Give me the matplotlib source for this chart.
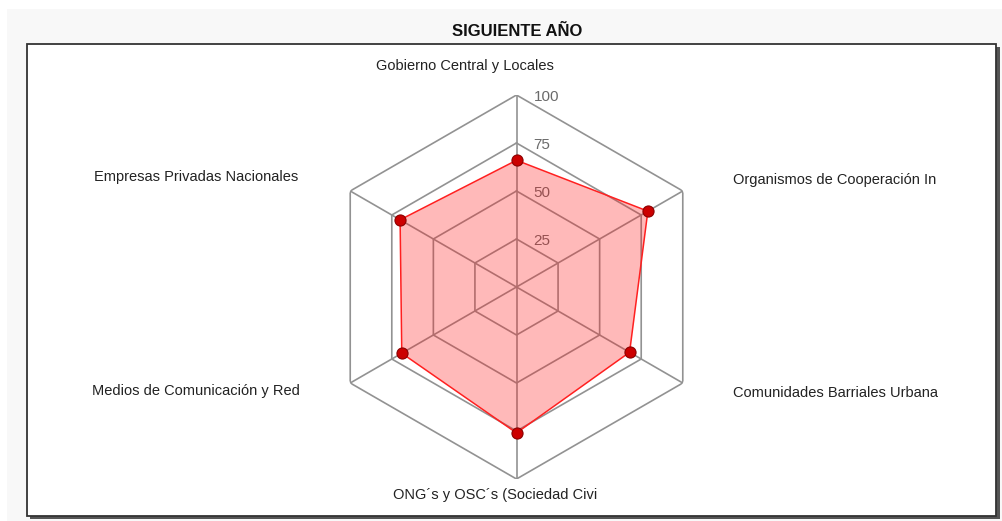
import matplotlib

matplotlib.use("Agg")
import matplotlib.pyplot as plt
import numpy as np
from matplotlib.patches import Rectangle

plt.rcParams["font.family"] = ["Liberation Sans", "DejaVu Sans"]

# data
categories = [
    "Gobierno Central y Locales",
    "Organismos de Cooperación In",
    "Comunidades Barriales Urbana",
    "ONG´s y OSC´s (Sociedad Civi",
    "Medios de Comunicación y Red",
    "Empresas Privadas Nacionales",
]
values = [66, 79, 68, 76, 69, 70]
rings = [25, 50, 75, 100]
title = "SIGUIENTE AÑO"

W, H = 1002, 521
fig = plt.figure(figsize=(W / 100, H / 100), dpi=100, facecolor="white")

# light grey page + framed white panel with a drop shadow
fig.patches.append(Rectangle((7 / W, 0), 1 - 7 / W, 1 - 9 / H, transform=fig.transFigure,
                             facecolor="#f8f8f8", edgecolor="none", zorder=0))
fig.patches.append(Rectangle((30 / W, (H - 519) / H), 970 / W, 472 / H, transform=fig.transFigure,
                             facecolor="#555555", edgecolor="none", zorder=0.1))
fig.patches.append(Rectangle((27 / W, (H - 516) / H), 969 / W, 472 / H, transform=fig.transFigure,
                             facecolor="white", edgecolor="#333333", lw=1.3, zorder=0.2))
fig.text(517 / W, 1 - 31 / H, title, ha="center", va="center", fontsize=12,
         fontweight="bold", color="#111111")

cx, cy, R = 516.5, 287, 192
ax = fig.add_axes([(cx - R) / W, (H - cy - R) / H, 2 * R / W, 2 * R / H], projection="polar")
ax.set_zorder(5)
ax.set_theta_offset(np.pi / 2)
ax.set_theta_direction(-1)
ax.set_ylim(0, 100)
ax.grid(False)
ax.set_xticks([])
ax.set_yticks([])
ax.spines["polar"].set_visible(False)
ax.patch.set_alpha(0)

n = len(categories)
ang = np.linspace(0, 2 * np.pi, n, endpoint=False)
ang_c = np.append(ang, ang[0])

for r in rings:
    ax.plot(ang_c, [r] * (n + 1), color="#929292", lw=1.2, zorder=1)
    ax.annotate(str(r), xy=(0, r), xytext=(17, -2), textcoords="offset pixels",
                ha="left", va="center", fontsize=11, color="#6a6a6a", zorder=1)
for a in ang:
    ax.plot([a, a], [0, 100], color="#929292", lw=1.2, zorder=1)

vals_c = np.append(values, values[0])
ax.fill(ang_c, vals_c, color="#ff1a1a", alpha=0.3, lw=0, zorder=2)
ax.plot(ang_c, vals_c, color="#ff2020", lw=1.1, zorder=3)
ax.plot(ang, values, "o", ms=8, color="#cc0000", mec="#8b0000", mew=0.8, zorder=4)

# category labels anchored at the outer ring vertices
offsets = [(-52, 29, "center"), (50, 11, "left"), (50, -10, "left"),
           (-21, -16, "center"), (-50, -8, "right"), (-52, 14, "right")]
for a, lab, (dx, dy, ha) in zip(ang, categories, offsets):
    ax.annotate(lab, xy=(a, 100), xytext=(dx, dy), textcoords="offset pixels",
                ha=ha, va="center", fontsize=10.5, color="#222222", annotation_clip=False)

fig.savefig("out.png", dpi=100, facecolor=fig.get_facecolor())
